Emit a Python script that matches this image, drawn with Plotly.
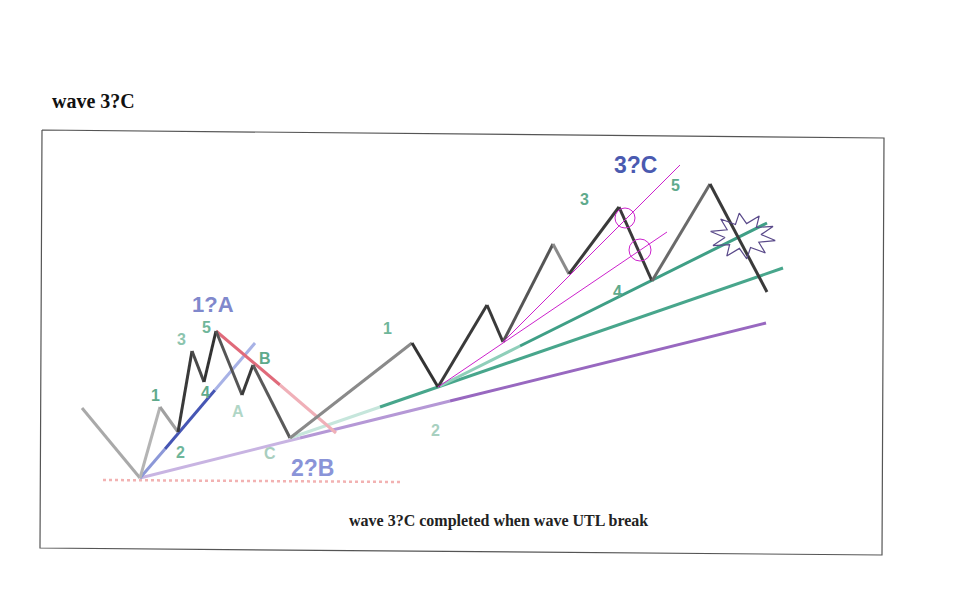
import numpy as np
import plotly.graph_objects as go

# ---- data (pixel-space units) ----
wave_x = [82, 140, 160, 178, 192, 204, 216, 242, 253, 290, 412, 438, 487, 503, 553, 569, 619, 652, 710, 767]
wave_y = [408, 478, 407, 432, 351, 382, 331, 395, 365, 438, 343, 387, 305, 342, 244, 274, 207, 281, 184, 292]
wave_colors = ["#a9a9a9", "#b4b4b4", "#a0a0a0", "#3a3a3a", "#4a4a4a", "#333333", "#555555", "#3a3a3a",
               "#5a5a5a", "#8a8a8a", "#333333", "#3a3a3a", "#3a3a3a", "#555555", "#8a8a8a",
               "#3a3a3a", "#3a3a3a", "#6a6a6a", "#3a3a3a"]

base_x = [103, 402]
base_y = [480, 482]

purple_x = [140, 300, 450, 766]
purple_y = [478, 438, 401, 323]
purple_colors = ["#c8b4e2", "#b598d6", "#9868c0"]

green_up_x = [438, 520, 767]
green_up_y = [387, 346, 223]
green_up_colors = ["#8fcfba", "#3f9f86"]

green_lo_x = [290, 380, 783]
green_lo_y = [438, 407, 268]
green_lo_colors = ["#c6e6dc", "#48a68c"]

blue_x = [140, 165, 215, 255]
blue_y = [478, 449, 390, 343]
blue_colors = ["#8c98d8", "#4656b4", "#a8b2e6"]

red_x = [216, 280, 336]
red_y = [331, 385, 433]
red_colors = ["#e06a7a", "#f0b0b8"]

mag1_x = [503, 680]
mag1_y = [342, 165]
mag2_x = [438, 667]
mag2_y = [387, 232]

circle_cx = [625, 640]
circle_cy = [218, 250]
circle_r = [10, 11]

star_cx, star_cy, star_rx, star_ry, star_pts = 743, 236, 33, 23, 10

labels = ["1", "2", "3", "4", "5", "A", "B", "C", "1", "2", "3", "4", "5"]
label_x = [155, 180, 181, 205, 206, 238, 265, 270, 387, 435, 584, 617, 675]
label_y = [395, 452, 339, 392, 327, 411, 358, 453, 328, 430, 199, 291, 185]
label_colors = ["#5faa8c", "#6fb69a", "#8cc4ae", "#5faa8c", "#6fb69a", "#b0d6c6", "#5faa8c", "#a8cebe",
                "#6fb69a", "#a8d0c0", "#5faa8c", "#5faa8c", "#5faa8c"]

big_labels = ["1?A", "2?B", "3?C"]
big_x = [213, 312, 635]
big_y = [304, 468, 165]
big_colors = ["#8088cc", "#8a94d8", "#4a5ab0"]

title_text = "wave 3?C"
caption_text = "wave 3?C completed when wave UTL break"

frame_x = [42, 884, 882, 40, 42]
frame_y = [130, 138, 555, 548, 130]

# ---- figure ----
fig = go.Figure()

def seg_line(xs, ys, colors, width, dash=None):
    for i in range(len(xs) - 1):
        fig.add_trace(go.Scatter(x=[xs[i], xs[i + 1]], y=[ys[i], ys[i + 1]], mode="lines",
                                 line=dict(color=colors[i], width=width, dash=dash),
                                 hoverinfo="skip", showlegend=False))

# frame
fig.add_trace(go.Scatter(x=frame_x, y=frame_y, mode="lines",
                         line=dict(color="#555555", width=1.2), hoverinfo="skip", showlegend=False))

# dotted base
fig.add_trace(go.Scatter(x=base_x, y=base_y, mode="lines",
                         line=dict(color="#f2b2b2", width=2.5, dash="dot"), hoverinfo="skip", showlegend=False))

seg_line(purple_x, purple_y, purple_colors, 3)
seg_line(green_lo_x, green_lo_y, green_lo_colors, 3)
seg_line(green_up_x, green_up_y, green_up_colors, 3)
seg_line(blue_x, blue_y, blue_colors, 3)
seg_line(red_x, red_y, red_colors, 3)

# wave path
seg_line(wave_x, wave_y, wave_colors, 3)

# magenta thin lines
for mx, my in [(mag1_x, mag1_y), (mag2_x, mag2_y)]:
    fig.add_trace(go.Scatter(x=mx, y=my, mode="lines", line=dict(color="#cc22cc", width=1),
                             hoverinfo="skip", showlegend=False))

# circles
for cx, cy, r in zip(circle_cx, circle_cy, circle_r):
    fig.add_shape(type="circle", xref="x", yref="y", x0=cx - r, x1=cx + r, y0=cy - r, y1=cy + r,
                  line=dict(color="#cc22cc", width=1))

# star burst
ang = np.linspace(0, 2 * np.pi, 2 * star_pts + 1) + 0.2
rad = np.where(np.arange(2 * star_pts + 1) % 2 == 0, 1.0, 0.55)
sx = star_cx + star_rx * rad * np.cos(ang)
sy = star_cy + star_ry * rad * np.sin(ang)
fig.add_trace(go.Scatter(x=sx, y=sy, mode="lines", line=dict(color="#5a4a8a", width=1.2),
                         hoverinfo="skip", showlegend=False))

# small labels
for t, x, y, c in zip(labels, label_x, label_y, label_colors):
    fig.add_annotation(x=x, y=y, text="<b>%s</b>" % t, showarrow=False,
                       font=dict(family="Liberation Sans, Arial", size=16, color=c))

for t, x, y, c, s in zip(big_labels, big_x, big_y, big_colors, [22, 23, 23]):
    fig.add_annotation(x=x, y=y, text="<b>%s</b>" % t, showarrow=False,
                       font=dict(family="Liberation Sans, Arial", size=s, color=c))

fig.add_annotation(x=50, y=101, xanchor="left", text="<b>%s</b>" % title_text, showarrow=False,
                   font=dict(family="Liberation Serif, Times New Roman", size=20, color="#111111"))
fig.add_annotation(x=498, y=521, text="<b>%s</b>" % caption_text, showarrow=False,
                   font=dict(family="Liberation Serif, Times New Roman", size=16, color="#222222"))

# the page body has an 8px margin; offset ranges so data units equal window pixels
fig.update_layout(width=946, height=607, margin=dict(l=0, r=0, t=0, b=0),
                  paper_bgcolor="white", plot_bgcolor="white", showlegend=False)
fig.update_xaxes(range=[8, 954], visible=False, fixedrange=True)
fig.update_yaxes(range=[615, 8], visible=False, fixedrange=True)

fig.write_html("out.html")
